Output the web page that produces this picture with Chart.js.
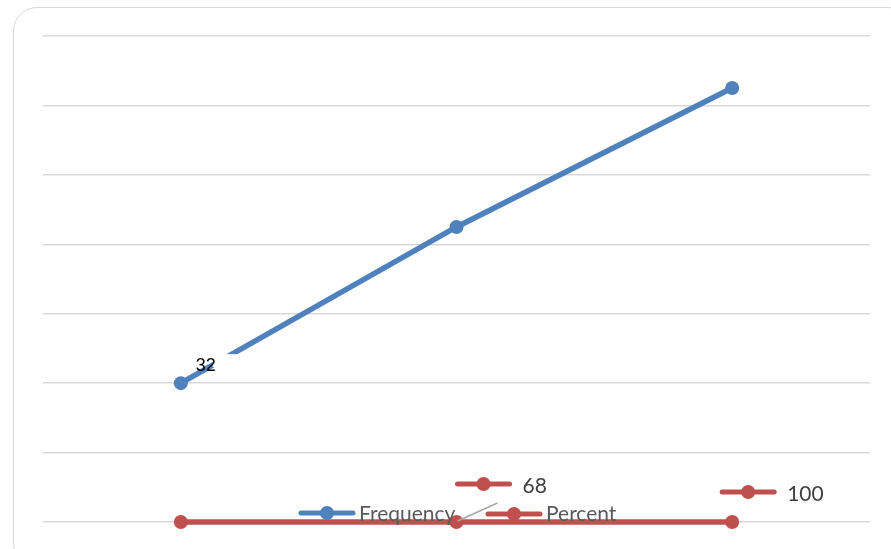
<!DOCTYPE html>
<html lang="en">
<head>
<meta charset="UTF-8">
<title>Frequency and Percent</title>
<script src="https://cdn.jsdelivr.net/npm/chart.js"></script>
<style>
    body {
        margin: 0;
        overflow: hidden;
        background: #fff;
        font-family: "Liberation Sans", Arial, sans-serif;
    }
    .frame {
        position: absolute;
        left: 13px;
        top: 7px;
        width: 900px;
        height: 560px;
        border: 1.5px solid #d9d9d9;
        border-radius: 24px;
        box-sizing: border-box;
    }
    #myChart {
        position: absolute;
        left: 0;
        top: 0;
    }
</style>
</head>
<body>
<div class="frame"></div>
<canvas id="myChart" width="891" height="549"></canvas>

<script>
    // chart data
    const categories = ['1', '2', '3'];
    const frequency = [32, 68, 100];
    const percent = [0, 0, 0];
    const dataLabels = ['32', '68', '100'];
    const yTicks = [0, 16, 32, 48, 64, 80, 96, 112];

    const blue = '#4f81bd';
    const red = '#c0504d';

    function drawKey(ctx, x, y, color) {
        ctx.save();
        ctx.strokeStyle = color;
        ctx.lineWidth = 5;
        ctx.lineCap = 'round';
        ctx.beginPath();
        ctx.moveTo(x - 26, y);
        ctx.lineTo(x + 26, y);
        ctx.stroke();
        ctx.fillStyle = color;
        ctx.beginPath();
        ctx.arc(x, y, 7, 0, Math.PI * 2);
        ctx.fill();
        ctx.restore();
    }

    // labels + legend drawn Excel style
    const labelPlugin = {
        id: 'labels',
        afterDatasetsDraw(chart) {
            const ctx = chart.ctx;
            const xs = chart.scales.x;
            const ys = chart.scales.y;
            const p0 = chart.getDatasetMeta(0).data[0];

            // "32" - the label box hides a piece of the line
            ctx.save();
            ctx.fillStyle = '#fff';
            ctx.fillRect(p0.x + 32, p0.y - 29, 26, 13);
            ctx.font = '18px "Liberation Sans", Arial, sans-serif';
            ctx.fillStyle = '#000';
            ctx.textBaseline = 'middle';
            ctx.fillText(dataLabels[0], p0.x + 15, p0.y - 17);
            ctx.restore();

            // leader line for 68
            const p1 = chart.getDatasetMeta(1).data[1];
            ctx.save();
            ctx.strokeStyle = '#a6a6a6';
            ctx.lineWidth = 1.5;
            ctx.beginPath();
            ctx.moveTo(p1.x + 1, p1.y - 1);
            ctx.lineTo(p1.x + 41, p1.y - 19);
            ctx.stroke();
            ctx.restore();

            const textFont = '21px Lato, "Open Sans", sans-serif';
            ctx.save();
            ctx.font = textFont;
            ctx.textBaseline = 'middle';

            // 68 label
            const x1 = xs.getPixelForValue(1);
            drawKey(ctx, x1 + 27, ys.bottom - 38, red);
            ctx.fillStyle = '#404040';
            ctx.fillText(dataLabels[1], x1 + 66, ys.bottom - 36);

            // 100 label
            const x2 = xs.getPixelForValue(2);
            drawKey(ctx, x2 + 16, ys.bottom - 30, red);
            ctx.fillStyle = '#404040';
            ctx.fillText(dataLabels[2], x2 + 55, ys.bottom - 28);

            // legend
            drawKey(ctx, 327, 513, blue);
            ctx.fillStyle = '#595959';
            ctx.fillText('Frequency', 359, 514);
            drawKey(ctx, 514, 514, red);
            ctx.fillStyle = '#595959';
            ctx.fillText('Percent', 546, 514);
            ctx.restore();
        }
    };

    const ctx = document.getElementById('myChart').getContext('2d');
    const chart = new Chart(ctx, {
        type: 'line',
        data: {
            labels: categories,
            datasets: [
                {
                    label: 'Frequency',
                    data: frequency,
                    borderColor: blue,
                    backgroundColor: blue,
                    borderWidth: 5.5,
                    pointRadius: 7,
                    pointBorderWidth: 0,
                    tension: 0,
                    clip: false
                },
                {
                    label: 'Percent',
                    data: percent,
                    borderColor: red,
                    backgroundColor: red,
                    borderWidth: 5.5,
                    pointRadius: 7,
                    pointBorderWidth: 0,
                    tension: 0,
                    clip: false
                }
            ]
        },
        options: {
            responsive: false,
            animation: false,
            layout: {
                padding: { left: 43, right: 21, top: 36, bottom: 27 }
            },
            plugins: {
                legend: { display: false },
                tooltip: { enabled: false }
            },
            scales: {
                x: {
                    display: false,
                    offset: true
                },
                y: {
                    min: yTicks[0],
                    max: yTicks[yTicks.length - 1],
                    afterBuildTicks: axis => {
                        axis.ticks = yTicks.map(v => ({ value: v }));
                    },
                    grid: { color: '#d9d9d9', lineWidth: 1.5, drawTicks: false },
                    border: { display: false },
                    ticks: { display: false }
                }
            }
        },
        plugins: [labelPlugin]
    });
</script>
</body>
</html>
